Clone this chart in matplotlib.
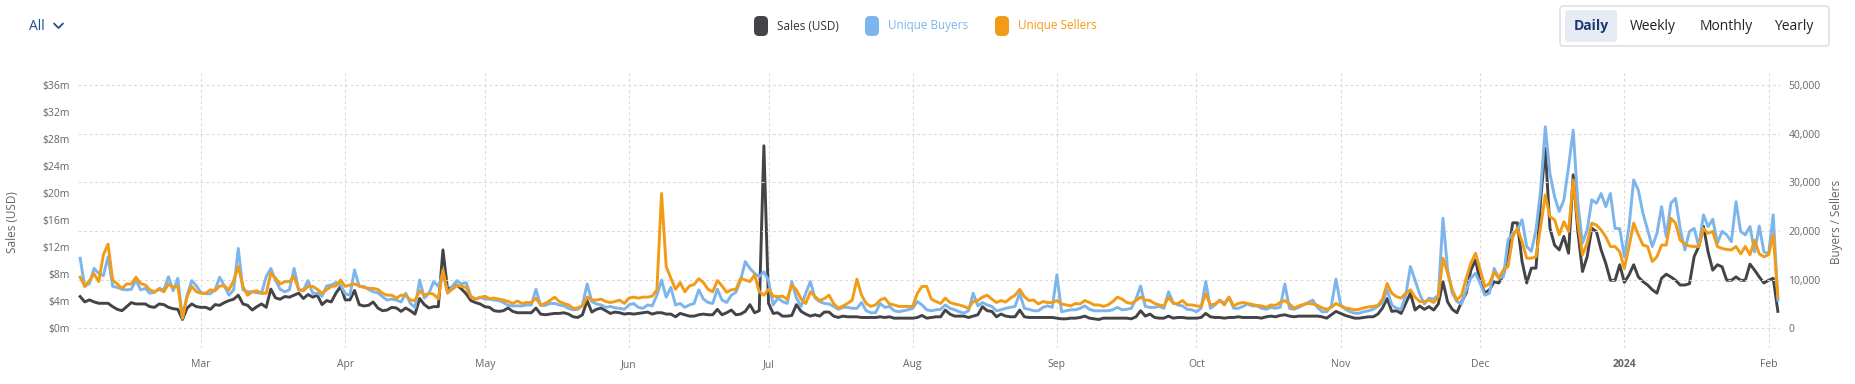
import matplotlib.pyplot as plt
from matplotlib.patches import FancyBboxPatch
from matplotlib.ticker import FuncFormatter
import numpy as np
import pandas as pd

plt.rcParams['font.family'] = ['Open Sans', 'DejaVu Sans']

start_date = '2023-02-03'

# daily sales in millions of USD
sales_musd = [
    4.7, 3.9, 4.2, 3.9, 3.7, 3.7, 3.7, 3.2, 2.8, 2.6,
    3.2, 3.8, 3.6, 3.6, 3.6, 3.2, 3.1, 3.6, 3.5, 3.1,
    2.9, 2.8, 1.3, 3.0, 3.6, 3.2, 3.1, 3.1, 2.8, 3.5,
    3.4, 3.8, 4.1, 4.3, 4.9, 3.6, 3.4, 2.7, 3.2, 3.6,
    3.1, 5.8, 4.5, 4.3, 4.7, 4.6, 4.9, 5.2, 4.4, 5.0,
    4.6, 4.9, 3.5, 4.1, 3.9, 5.2, 6.2, 4.2, 4.2, 5.6,
    3.5, 3.3, 3.4,
    3.9, 3.0, 2.6, 2.7, 3.1, 3.0, 2.5,
    3.0, 2.6, 2.1, 4.4, 3.5, 3.0, 3.2, 3.2, 11.6, 5.7,
    6.1, 6.4, 5.8, 5.1, 4.1, 3.8, 3.6, 3.2, 3.1, 2.6,
    2.5, 2.6, 3.0, 2.5, 2.3, 2.3, 2.3, 2.3, 3.0, 2.1,
    2.0, 2.1, 2.2, 2.2, 2.3, 2.1, 1.7, 1.6, 2.0, 4.1,
    2.4, 2.8, 3.0, 2.6, 2.2, 2.4, 2.3, 2.1, 2.2, 2.1,
    2.2, 2.3, 2.4, 2.1, 2.3,
    2.3, 2.1, 2.1, 1.7, 2.2,
    2.0, 1.8, 1.8, 2.0, 2.1, 2.0, 2.0, 2.8, 2.0, 2.3,
    2.7, 2.0, 2.1, 2.5, 3.5, 2.3, 2.6, 27.0, 3.7, 2.2,
    2.3, 1.8, 1.8, 1.9, 3.5, 2.5, 2.1, 1.8, 2.0, 1.8,
    2.4, 2.4, 1.8, 1.6, 1.8, 1.7, 1.7, 1.7, 1.6, 1.6,
    1.6, 1.6, 1.7, 1.6, 1.7, 1.5, 1.5, 1.5, 1.5, 1.5,
    1.6, 1.9, 1.5, 1.6, 1.7, 1.7, 2.7,
    2.1, 1.8, 1.8,
    1.8, 1.6, 1.8, 2.0, 3.2, 2.6, 2.5, 1.7, 2.1, 1.8,
    1.7, 1.7, 2.7, 1.7, 1.6, 1.6, 1.6, 1.6, 1.6, 1.6,
    1.5, 1.4, 1.4, 1.5, 1.5, 1.6, 1.8, 1.5, 1.4, 1.3,
    1.5, 1.5, 1.5, 1.5, 1.5, 1.5, 1.4, 1.7, 2.6, 1.8,
    2.1, 1.6, 1.5, 1.5, 1.8, 1.5, 1.6, 1.6, 1.5, 1.5,
    1.5, 1.6, 2.2, 1.7, 1.6, 1.6, 1.5, 1.6, 1.6, 1.7,
    1.6, 1.6, 1.6, 1.6, 1.5, 1.7, 1.8, 1.7, 1.9, 2.0,
    1.8, 1.7, 1.8, 1.8, 1.8, 1.8, 1.8, 1.7, 1.5, 2.0,
    2.5, 2.2, 1.9, 1.7, 1.5, 1.5, 1.6, 1.7, 1.7, 2.1,
    3.0, 4.4, 2.5, 2.6, 2.2, 3.7, 5.2, 2.7, 3.3,
    2.8, 3.2, 2.7, 3.6, 6.9, 3.9, 2.8, 2.3, 3.9, 5.2,
    8.6, 10.1, 6.9, 5.2, 5.7, 6.9, 6.7, 7.9, 11.1, 15.6,
    15.6, 9.9, 6.7, 8.9, 8.9, 19.0, 26.6, 14.8, 12.3, 11.6,
    13.6, 11.1, 22.7, 14.3, 8.4, 10.6, 14.8, 14.3, 11.6, 9.6,
    7.1, 7.1, 9.4, 6.8, 7.9, 9.4, 7.6, 6.9, 6.4, 5.7,
    5.2, 7.4, 8.0, 7.6, 7.1, 6.4, 6.4, 6.6, 10.6, 12.1,
    15.1, 11.3, 8.6, 9.4, 9.1, 7.1, 7.1, 7.6, 7.1, 7.1,
    9.5, 8.6, 7.6, 6.7, 7.1, 7.4, 2.5,
]

# daily unique buyers, thousands
buyers_k = [
    14.4, 8.6, 9.2, 12.3, 11.3, 10.8, 14.7, 8.6, 8.4, 8.0,
    7.9, 8.0, 9.9, 7.9, 8.2, 7.2, 7.4, 8.2, 7.9, 10.6,
    7.7, 10.3, 2.1, 6.8, 9.8, 8.7, 7.3, 7.1, 7.1, 7.9,
    10.5, 8.7, 6.8, 7.9, 16.4, 7.9, 7.5, 7.5, 7.3, 7.2,
    10.6, 12.3, 9.9, 8.0, 7.5, 7.9, 12.3, 7.9, 7.9, 9.8,
    7.2, 7.2, 6.6, 8.7, 8.9, 9.4, 8.9, 7.1, 6.8, 12.0,
    8.6, 8.6, 8.0,
    7.5, 7.3, 6.5, 5.8, 6.0, 5.8, 5.4,
    7.2, 5.1, 4.3, 9.9, 6.2, 7.2, 9.6, 8.6, 11.3, 7.2,
    8.6, 9.8, 9.1, 9.4, 6.6, 6.0, 6.4, 6.0, 6.0, 5.8,
    5.7, 5.3, 4.7, 4.6, 4.6, 4.6, 4.8, 4.8, 8.0, 4.7,
    4.7, 5.1, 5.1, 4.8, 4.6, 4.1, 3.8, 3.9, 4.8, 9.1,
    5.5, 5.0, 4.8, 4.3, 4.5, 4.2, 4.1, 3.9, 4.8, 5.1,
    4.3, 4.1, 4.8, 4.6, 6.8,
    9.9, 6.4, 8.4, 4.8, 5.1,
    4.3, 4.8, 5.1, 7.9, 6.0, 5.3, 5.1, 8.0, 5.8, 5.3,
    6.8, 7.4, 9.9, 13.7, 12.3, 11.3, 10.6, 11.6, 9.8, 4.8,
    6.2, 5.5, 5.1, 9.6, 6.2, 4.5, 7.2, 9.6, 6.2, 5.5,
    5.1, 5.0, 4.5, 3.9, 4.3, 4.3, 4.1, 4.1, 5.3, 3.6,
    3.2, 3.2, 5.1, 4.3, 4.5, 3.6, 3.4, 3.6, 3.8, 4.1,
    5.5, 4.8, 3.8, 3.6, 3.8, 3.9, 4.8,
    4.1, 3.8, 3.4,
    3.1, 3.6, 7.2, 4.6, 5.3, 4.8, 4.5, 3.6, 3.8, 4.1,
    4.3, 4.5, 7.2, 4.1, 3.9, 3.6, 3.6, 4.3, 4.6, 4.3,
    11.0, 3.4, 3.6, 3.8, 3.8, 4.1, 4.6, 3.9, 3.6, 3.6,
    3.6, 3.6, 3.8, 4.3, 3.8, 3.9, 4.1, 6.0, 8.7, 4.5,
    4.3, 4.3, 4.5, 4.1, 7.5, 5.3, 4.8, 4.6, 3.9, 3.8,
    3.4, 4.1, 9.6, 4.1, 4.8, 5.8, 5.1, 6.4, 4.1, 4.1,
    4.5, 5.0, 4.6, 4.6, 4.1, 3.9, 4.3, 4.1, 4.3, 9.1,
    4.1, 3.9, 4.3, 4.8, 5.3, 5.8, 4.3, 3.4, 3.4, 4.6,
    10.1, 4.8, 3.9, 3.4, 3.1, 3.1, 3.4, 3.6, 3.9, 4.5,
    5.3, 7.9, 4.8, 4.1, 3.9, 6.8, 12.7, 9.9, 7.0,
    5.0, 6.2, 6.0, 6.8, 22.6, 12.0, 7.2, 5.5, 5.0, 7.9,
    10.3, 11.3, 9.2, 6.8, 7.2, 12.3, 10.3, 10.6, 18.2, 19.5,
    20.2, 22.3, 16.8, 15.8, 20.2, 28.4, 41.4, 31.8, 27.0, 24.0,
    26.4, 33.2, 40.7, 25.7, 17.5, 20.2, 26.4, 25.7, 27.7, 25.0,
    27.7, 20.5, 20.5, 14.7, 20.9, 30.5, 28.4, 23.6, 20.2, 16.8,
    19.5, 25.0, 18.8, 25.7, 26.7, 20.5, 16.1, 19.9, 20.5, 16.8,
    23.3, 20.9, 22.4, 17.5, 19.9, 19.2, 17.8, 26.0, 19.9, 19.2,
    20.9, 15.7, 21.0, 15.7, 15.3, 23.3, 5.8,
]

# daily unique sellers, thousands
sellers_k = [
    10.5, 8.6, 9.8, 11.2, 9.6, 15.1, 17.3, 9.9, 9.1, 8.2,
    9.1, 9.1, 10.5, 9.2, 8.9, 7.9, 7.5, 8.0, 7.5, 9.1,
    8.4, 8.6, 2.1, 6.5, 8.6, 7.5, 7.2, 7.2, 7.9, 7.7,
    8.7, 8.7, 7.9, 9.8, 12.7, 8.6, 6.8, 7.5, 7.7, 7.2,
    7.2, 11.3, 10.3, 9.1, 9.6, 9.6, 10.6, 7.9, 7.7, 8.6,
    8.6, 8.0, 7.2, 7.9, 8.6, 8.7, 9.9, 8.6, 8.9, 9.1,
    8.7, 8.4, 8.2,
    8.2, 8.0, 7.2, 6.8, 6.8, 6.2, 6.8,
    6.8, 5.8, 5.7, 7.7, 6.8, 7.2, 7.0, 6.0, 12.0, 7.3,
    8.0, 8.8, 8.6, 8.4, 6.4, 6.0, 6.3, 6.6, 6.1, 6.2,
    6.0, 5.8, 5.5, 5.1, 5.6, 5.1, 5.3, 5.3, 6.2, 4.8,
    5.1, 5.7, 6.4, 5.5, 5.1, 4.8, 4.1, 4.2, 4.6, 6.4,
    5.8, 5.8, 6.0, 5.5, 5.3, 5.5, 5.8, 5.1, 6.2, 6.4,
    6.2, 6.4, 6.4, 6.6, 7.9,
    27.7, 12.7, 10.3, 8.0, 9.4,
    7.5, 8.7, 9.0, 10.2, 9.4, 8.0, 7.5, 9.8, 8.7, 7.4,
    7.9, 8.0, 10.3, 9.9, 9.6, 11.0, 7.5, 6.8, 8.0, 6.6,
    6.5, 6.6, 6.0, 8.9, 7.9, 6.0, 5.1, 7.5, 6.5, 5.7,
    6.1, 6.8, 5.1, 4.1, 4.6, 5.1, 5.8, 10.1, 6.8, 5.1,
    4.5, 4.8, 5.8, 6.2, 5.0, 4.8, 4.5, 4.5, 4.5, 4.5,
    7.2, 8.6, 8.6, 6.0, 5.5, 5.1, 6.2,
    5.3, 5.0, 4.8,
    4.5, 4.1, 5.5, 5.7, 6.4, 6.8, 6.0, 5.3, 5.7, 5.4,
    6.2, 6.8, 8.0, 6.5, 5.7, 5.8, 5.0, 5.5, 5.3, 5.3,
    5.7, 5.0, 4.8, 4.6, 5.1, 5.0, 5.7, 5.3, 4.8, 4.8,
    4.5, 4.8, 5.5, 6.4, 6.0, 5.3, 5.1, 5.7, 6.4, 5.8,
    5.7, 5.1, 4.8, 4.6, 6.4, 5.1, 5.1, 5.7, 4.8, 4.8,
    4.6, 4.5, 7.1, 4.8, 5.0, 5.7, 4.8, 6.4, 4.6, 5.1,
    5.3, 5.1, 4.9, 4.7, 4.6, 4.3, 4.8, 4.7, 5.3, 5.7,
    5.0, 4.1, 4.6, 4.9, 5.1, 5.0, 4.7, 4.2, 3.9, 4.3,
    5.1, 4.6, 4.2, 4.0, 3.8, 3.9, 4.2, 4.4, 4.5, 4.7,
    6.0, 9.2, 7.2, 6.5, 6.2, 7.2, 7.9, 6.4, 5.5,
    5.5, 5.8, 5.3, 6.5, 14.4, 11.3, 7.9, 5.8, 6.8, 10.3,
    13.4, 15.4, 12.0, 8.6, 9.2, 11.6, 10.3, 12.0, 12.7, 18.8,
    20.5, 17.8, 14.4, 14.4, 14.7, 20.9, 27.4, 22.9, 22.3, 19.2,
    21.9, 19.9, 30.5, 21.6, 15.1, 17.5, 21.6, 21.2, 20.2, 18.8,
    16.8, 16.8, 15.7, 12.3, 16.8, 21.6, 19.2, 17.1, 16.8, 13.7,
    14.7, 17.1, 17.1, 22.6, 21.6, 18.1, 17.3, 16.9, 16.8, 16.8,
    20.5, 19.5, 19.9, 16.8, 16.4, 16.2, 16.1, 16.8, 15.3, 16.8,
    15.1, 18.1, 15.3, 14.7, 15.1, 19.2, 6.5,
]

series_names = ['Sales (USD)', 'Unique Buyers', 'Unique Sellers']
series_colors = ['#434348', '#7cb5ec', '#f29b16']
left_ticks = [0, 4, 8, 12, 16, 20, 24, 28, 32, 36]
right_ticks = [0, 10000, 20000, 30000, 40000, 50000]
range_buttons = ['Daily', 'Weekly', 'Monthly', 'Yearly']

W, H = 1856, 384
fig = plt.figure(figsize=(W / 100, H / 100), dpi=100)


def fx(px):
    return px / W


def fy(py):
    return 1 - py / H


ax = fig.add_axes([fx(78), fy(348), fx(1780) - fx(78), fy(72) - fy(348)])
ax2 = ax.twinx()

dates = pd.date_range(start_date, periods=len(sales_musd), freq='D')
buyers = np.array(buyers_k) * 1000
sellers = np.array(sellers_k) * 1000

ax.plot(dates, sales_musd, color=series_colors[0], lw=2.1, solid_joinstyle='round')
ax2.plot(dates[:len(buyers)], buyers, color=series_colors[1], lw=2.1, solid_joinstyle='round')
ax2.plot(dates[:len(sellers)], sellers, color=series_colors[2], lw=2.1, solid_joinstyle='round')

# both scales share the zero line, $36m lines up with 50,000
ax2.set_ylim(-4050, 52660)
ratio = left_ticks[-1] / right_ticks[-1]
lo, hi = ax2.get_ylim()
ax.set_ylim(lo * ratio, hi * ratio)
pad = pd.Timedelta(hours=11)
ax.set_xlim(dates[0] - pad, dates[-1] + pad)

month_starts = pd.date_range('2023-03-01', '2024-02-01', freq='MS')
ax.set_xticks(month_starts)
ax.set_xticklabels([d.strftime('%Y') if d.month == 1 else d.strftime('%b') for d in month_starts])
for lbl, d in zip(ax.get_xticklabels(), month_starts):
    if d.month == 1:
        lbl.set_fontweight('bold')

ax.set_yticks(left_ticks)
ax.yaxis.set_major_formatter(FuncFormatter(lambda v, p: '$%dm' % v))
ax2.set_yticks(right_ticks)
ax2.yaxis.set_major_formatter(FuncFormatter(lambda v, p: '{:,.0f}'.format(v)))

grid_kw = dict(color='#d9d9d9', lw=0.8, linestyle=(0, (2.5, 2.5)))
ax.grid(axis='x', **grid_kw)
ax2.grid(axis='y', **grid_kw)
ax.set_axisbelow(True)
ax2.set_axisbelow(True)

for a in (ax, ax2):
    for s in a.spines.values():
        s.set_visible(False)
ax.tick_params(axis='x', length=0, pad=8, labelsize=7.5, labelcolor='#666666')
ax.tick_params(axis='y', length=0, pad=6, labelsize=7.5, labelcolor='#666666')
ax2.tick_params(axis='y', length=0, pad=6, labelsize=7.5, labelcolor='#666666')

fig.text(fx(13), fy(222), 'Sales (USD)', rotation=90, ha='center', va='center',
         fontsize=8.5, color='#666666')
fig.text(fx(1837), fy(222), 'Buyers / Sellers', rotation=90, ha='center', va='center',
         fontsize=8.5, color='#666666')

# header overlay in pixel units
top = fig.add_axes([0, 0, 1, 1])
top.set_xlim(0, W)
top.set_ylim(H, 0)
top.axis('off')
top.patch.set_visible(False)

top.text(29, 26, 'All', color='#1f4e8c', fontsize=10, va='center', ha='left')
top.plot([54, 58.5, 63], [23.5, 28, 23.5], color='#1f4e8c', lw=1.3, solid_capstyle='round')

legend_x = [761, 872, 1002]
for x, name, col in zip(legend_x, series_names, series_colors):
    top.add_patch(FancyBboxPatch((x - 7, 16), 14, 20, boxstyle='round,pad=0,rounding_size=5',
                                 fc=col, ec='none'))
    tcol = '#333333' if name == series_names[0] else col
    top.text(x + 16, 26, name, color=tcol, fontsize=8.5, va='center', ha='left')

top.add_patch(FancyBboxPatch((1560, 6), 269, 40, boxstyle='round,pad=0,rounding_size=3',
                             fc='white', ec='#d9d9d9', lw=1))
top.add_patch(FancyBboxPatch((1565, 10), 52, 32, boxstyle='round,pad=0,rounding_size=3',
                             fc='#e6ebf5', ec='none'))
button_x = [1591, 1653, 1726, 1794]
for bx, name in zip(button_x, range_buttons):
    if name == 'Daily':
        top.text(bx, 26, name, color='#1a3a6e', fontsize=10, fontweight='bold',
                 ha='center', va='center')
    else:
        top.text(bx, 26, name, color='#222222', fontsize=10, ha='center', va='center')

fig.savefig('out.png', dpi=100, facecolor='white')
